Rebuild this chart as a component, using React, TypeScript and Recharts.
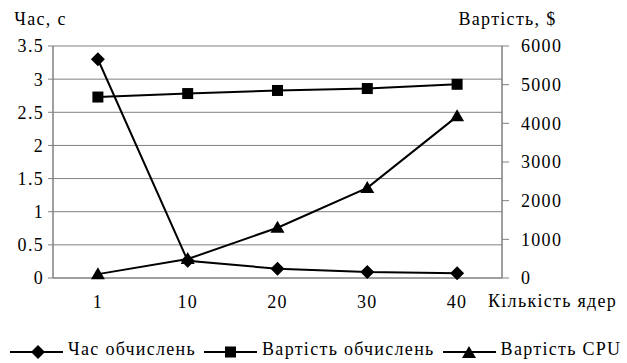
import { LineChart, Line, XAxis, YAxis, CartesianGrid } from "recharts";

const categories = ["1", "10", "20", "30", "40"];
const computeTime = [3.3, 0.26, 0.14, 0.09, 0.07];
const computeCost = [4680, 4770, 4850, 4900, 5010];
const cpuCost = [100, 490, 1300, 2330, 4180];
const timeTicks = [0, 0.5, 1, 1.5, 2, 2.5, 3, 3.5];
const costTicks = [0, 1000, 2000, 3000, 4000, 5000, 6000];
const boundaryTicks = [0, 1, 2, 3, 4, 5];
const centerTicks = [0.5, 1.5, 2.5, 3.5, 4.5];

const data = categories.map((c, i) => ({
  pos: i + 0.5,
  name: c,
  time: computeTime[i],
  cost: computeCost[i],
  cpu: cpuCost[i],
}));

const FONT = `"Liberation Serif", serif`;
const GRID = "#808080";
// the source text is slightly stretched sideways, letter spacing makes up for it
const textStyle = { fontFamily: FONT, fontSize: 18, fill: "#000", letterSpacing: 1.3 };
const tickStyle = { fontSize: 18, fill: "#000", style: { fontFamily: FONT, letterSpacing: 1.3 } };

type DotProps = { cx?: number; cy?: number; key?: string | number };

function diamond(cx: number, cy: number) {
  const r = 7;
  return `${cx},${cy - r} ${cx + r},${cy} ${cx},${cy + r} ${cx - r},${cy}`;
}
function triangle(cx: number, cy: number) {
  return `${cx},${cy - 7} ${cx + 7},${cy + 5} ${cx - 7},${cy + 5}`;
}

const DiamondDot = (props: unknown) => {
  const { cx, cy, key } = props as DotProps;
  if (cx == null || cy == null) return <g key={key} />;
  return <polygon key={key} points={diamond(cx, cy)} fill="#000" />;
};
const SquareDot = (props: unknown) => {
  const { cx, cy, key } = props as DotProps;
  if (cx == null || cy == null) return <g key={key} />;
  return <rect key={key} x={cx - 5.5} y={cy - 5.5} width={11} height={11} fill="#000" />;
};
const TriangleDot = (props: unknown) => {
  const { cx, cy, key } = props as DotProps;
  if (cx == null || cy == null) return <g key={key} />;
  return <polygon key={key} points={triangle(cx, cy)} fill="#000" />;
};

const legendItems = [
  { label: "Час обчислень", shape: "diamond" },
  { label: "Вартість обчислень", shape: "square" },
  { label: "Вартість CPU", shape: "triangle" },
];

function LegendMark({ shape }: { shape: string }) {
  return (
    <svg width={53} height={20} style={{ display: "block" }}>
      <line x1={0} y1={13} x2={53} y2={13} stroke="#000" strokeWidth={2} />
      {shape === "diamond" && <polygon points={diamond(28, 13)} fill="#000" />}
      {shape === "square" && <rect x={21} y={7.5} width={11} height={11} fill="#000" />}
      {shape === "triangle" && <polygon points={triangle(26, 14)} fill="#000" />}
    </svg>
  );
}

export default function App() {
  return (
    <div
      style={{
        position: "absolute",
        left: 0,
        top: 0,
        width: 627,
        height: 363,
        background: "#fff",
        fontFamily: FONT,
      }}
    >
      <LineChart
        width={627}
        height={320}
        data={data}
        margin={{ top: 46, right: 0, bottom: 0, left: 0 }}
      >
        <CartesianGrid
          xAxisId="g"
          yAxisId="left"
          stroke={GRID}
          strokeWidth={1}
          verticalFill={[]}
        />
        <XAxis
          xAxisId="g"
          type="number"
          dataKey="pos"
          domain={[0, 5]}
          ticks={boundaryTicks}
          tick={false}
          tickSize={6}
          height={6}
          stroke={GRID}
        />
        <XAxis
          xAxisId="lab"
          type="number"
          dataKey="pos"
          domain={[0, 5]}
          ticks={centerTicks}
          tickFormatter={(v: number) => categories[Math.floor(v)]}
          tickLine={false}
          axisLine={false}
          tickSize={0}
          tickMargin={11}
          height={36}
          tick={tickStyle}
          label={{
            value: "Кількість ядер",
            position: "right",
            offset: -14,
            dy: -1,
            style: textStyle,
          }}
        />
        <YAxis
          yAxisId="left"
          domain={[0, 3.5]}
          ticks={timeTicks}
          width={53}
          tickSize={5}
          tickMargin={4}
          stroke={GRID}
          tick={tickStyle}
          label={{
            value: "Час, с",
            position: "top",
            offset: 21,
            dx: 14,
            style: textStyle,
          }}
        />
        <YAxis
          yAxisId="right"
          orientation="right"
          domain={[0, 6000]}
          ticks={costTicks}
          width={125}
          tickSize={7}
          tickMargin={12}
          stroke={GRID}
          tick={{ ...tickStyle, textAnchor: "start" }}
          label={{
            value: "Вартість, $",
            position: "top",
            offset: 21,
            dx: -57,
            style: textStyle,
          }}
        />
        <YAxis
          yAxisId="rm"
          orientation="right"
          mirror
          domain={[0, 6000]}
          ticks={costTicks}
          tick={false}
          axisLine={false}
          tickSize={5}
          stroke={GRID}
        />
        <Line
          xAxisId="lab"
          yAxisId="left"
          dataKey="time"
          stroke="#000"
          strokeWidth={2}
          dot={DiamondDot}
          isAnimationActive={false}
        />
        <Line
          xAxisId="lab"
          yAxisId="right"
          dataKey="cost"
          stroke="#000"
          strokeWidth={2}
          dot={SquareDot}
          isAnimationActive={false}
        />
        <Line
          xAxisId="lab"
          yAxisId="right"
          dataKey="cpu"
          stroke="#000"
          strokeWidth={2}
          dot={TriangleDot}
          isAnimationActive={false}
        />
      </LineChart>
      <div
        style={{
          position: "absolute",
          left: 10,
          top: 339,
          display: "flex",
          alignItems: "center",
          fontFamily: FONT,
          fontSize: 18,
          letterSpacing: 1.3,
          lineHeight: "18px",
          whiteSpace: "nowrap",
        }}
      >
        {legendItems.map((it) => (
          <div key={it.label} style={{ display: "flex", alignItems: "center", marginRight: 8 }}>
            <LegendMark shape={it.shape} />
            <span style={{ marginLeft: 5 }}>{it.label}</span>
          </div>
        ))}
      </div>
    </div>
  );
}
